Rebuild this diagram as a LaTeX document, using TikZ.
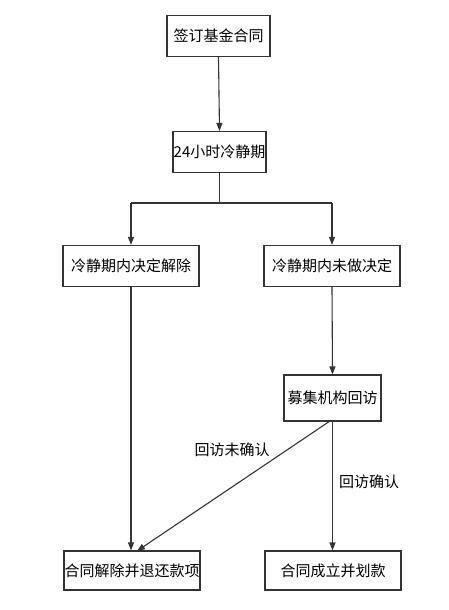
\documentclass[tikz,border=0pt]{standalone}
\usepackage{fontspec}
\setmainfont{Noto Sans CJK SC}
\usetikzlibrary{arrows.meta}
\begin{document}
\begin{tikzpicture}[x=1pt,y=-1pt,
  box/.style={draw=black!80,line width=1.1pt,minimum height=41pt,inner sep=0pt,font=\fontsize{15}{17}\selectfont},
  lab/.style={inner sep=1pt,font=\fontsize{15}{17}\selectfont},
  conn/.style={draw=black!80,line width=1.1pt,-{Triangle[length=8pt,width=6pt]}},
  line/.style={draw=black!80,line width=1.1pt}]
\useasboundingbox (0,0) rectangle (448,610);
\node[box,minimum width=103pt] (b1) at (218.5,36) {签订基金合同};
\node[box,minimum width=93pt] (b2) at (219.5,152) {24小时冷静期};
\node[box,minimum width=136pt] (b3) at (131,266) {冷静期内决定解除};
\node[box,minimum width=136pt] (b4) at (332,266) {冷静期内未做决定};
\node[box,minimum width=97pt,minimum height=46pt] (b5) at (332.5,398) {募集机构回访};
\node[box,minimum width=136pt,minimum height=39pt] (b6) at (132,570.5) {合同解除并退还款项};
\node[box,minimum width=136pt,minimum height=39pt] (b7) at (333,570.5) {合同成立并划款};
\coordinate (split) at (219.5,203);
\coordinate (sl) at (131,203);
\coordinate (sr) at (332,203);
\coordinate (b5bot) at (330,421);
\coordinate (b6tip) at (137,551);
\draw[conn] (b1.south) -- (b2.north);
\draw[line] (b2.south) -- (split);
\draw[line] (sl) -- (sr);
\draw[conn] (sl) -- (b3.north);
\draw[conn] (sr) -- (b4.north);
\draw[conn] (b3.south) -- (b3.south |- b6.north);
\draw[conn] (b4.south) -- (b5.north);
\draw[conn] (b5bot) -- (b6tip);
\draw[conn] (b5.south) -- (b5.south |- b7.north);
\node[lab] (l1) at (232,450) {回访未确认};
\node[lab] (l2) at (369,482) {回访确认};
\end{tikzpicture}
\end{document}
